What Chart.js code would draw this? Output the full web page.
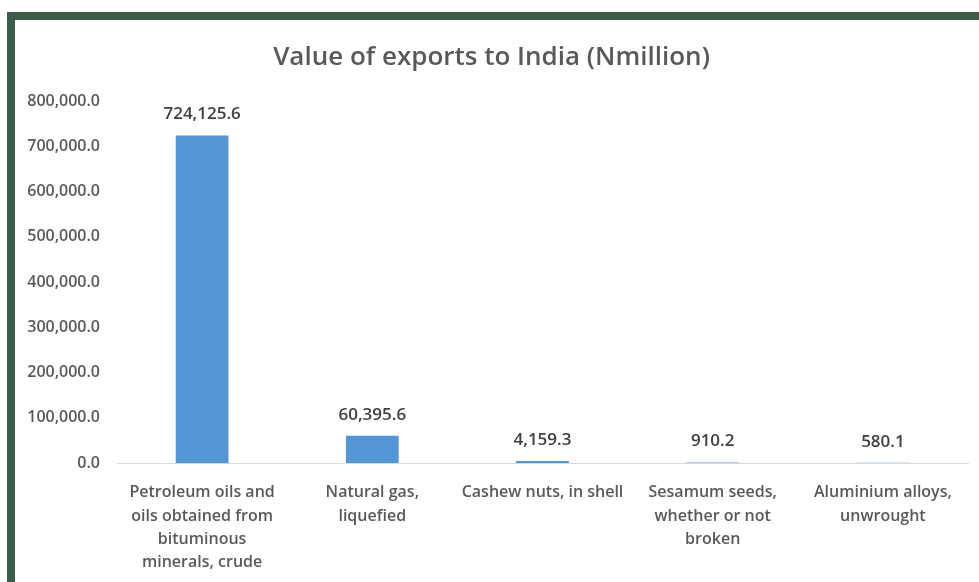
<!DOCTYPE html>
<html>
<head>
<meta charset="utf-8">
<script src="https://cdn.jsdelivr.net/npm/chart.js@4/dist/chart.umd.min.js"></script>
<style>
  html, body { margin: 0; padding: 0; background: #fff; }
  body { width: 979px; height: 582px; overflow: hidden; position: relative; }
  #frame {
    position: absolute; left: 7px; top: 12px; width: 964px; height: 562px;
    border-top: 8px solid #3b5c47; border-left: 8px solid #3b5c47; background: #fff;
  }
  #wrap { position: relative; width: 964px; height: 562px; }
</style>
</head>
<body>
<div id="frame"><div id="wrap"><canvas id="chart"></canvas></div></div>
<script>
const categories = [
  ['Petroleum oils and', 'oils obtained from', 'bituminous', 'minerals, crude'],
  ['Natural gas,', 'liquefied'],
  ['Cashew nuts, in shell'],
  ['Sesamum seeds,', 'whether or not', 'broken'],
  ['Aluminium alloys,', 'unwrought']
];
const exportValues = [724125.6, 60395.6, 4159.3, 910.2, 580.1];
const yTicks = [0, 100000, 200000, 300000, 400000, 500000, 600000, 700000, 800000];

const fmt = v => v.toLocaleString('en-US', { minimumFractionDigits: 1, maximumFractionDigits: 1 });
const FONT = "'Open Sans', sans-serif";

// value labels above the bars
const valueLabels = {
  id: 'valueLabels',
  afterDatasetsDraw(chart) {
    const ctx = chart.ctx;
    const meta = chart.getDatasetMeta(0);
    ctx.save();
    ctx.font = '600 17px ' + FONT;
    ctx.fillStyle = '#404040';
    ctx.textAlign = 'center';
    ctx.textBaseline = 'middle';
    meta.data.forEach((bar, i) => {
      ctx.fillText(fmt(exportValues[i]), bar.x, bar.y - 21);
    });
    ctx.restore();
  }
};

new Chart(document.getElementById('chart'), {
  type: 'bar',
  data: {
    labels: categories,
    datasets: [{
      data: exportValues,
      backgroundColor: '#5495d3',
      categoryPercentage: 1,
      barPercentage: 0.31
    }]
  },
  options: {
    responsive: true,
    maintainAspectRatio: false,
    animation: false,
    layout: { padding: { top: 0, right: 11, bottom: 0, left: 0 } },
    plugins: {
      legend: { display: false },
      tooltip: { enabled: false },
      title: {
        display: true,
        text: 'Value of exports to India (Nmillion)',
        color: '#595959',
        font: { family: FONT, size: 26, weight: '600' },
        padding: { top: 22, bottom: 28 }
      }
    },
    scales: {
      x: {
        grid: { display: false },
        border: { display: true, color: '#d9d9d9' },
        ticks: {
          color: '#595959',
          font: { family: FONT, size: 16, weight: '600', lineHeight: 1.46 },
          padding: 10,
          maxRotation: 0,
          autoSkip: false
        },
        afterFit(scale) { scale.height = 119; }
      },
      y: {
        min: 0,
        max: 800000,
        grid: { display: false },
        border: { display: false },
        afterBuildTicks(scale) { scale.ticks = yTicks.map(v => ({ value: v })); },
        ticks: {
          color: '#595959',
          font: { family: FONT, size: 16, weight: '600' },
          padding: 9,
          callback: v => fmt(v)
        },
        afterFit(scale) { scale.width = 102; }
      }
    }
  },
  plugins: [valueLabels]
});
</script>
</body>
</html>
